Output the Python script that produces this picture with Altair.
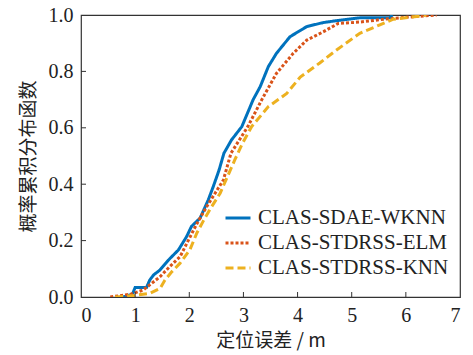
import altair as alt
import pandas as pd

methods = ["CLAS-SDAE-WKNN", "CLAS-STDRSS-ELM", "CLAS-STDRSS-KNN"]
colors = ["#0072BD", "#D95319", "#EDB120"]
dashes = [[1, 0], [3, 2], [8, 4]]

wknn_x = [0.78, 0.95, 1.00, 1.21, 1.27, 1.34, 1.46, 1.61, 1.80, 1.95, 2.04, 2.20, 2.35, 2.44, 2.55, 2.64, 2.78, 2.97, 3.18, 3.31, 3.46, 3.61, 3.86, 4.17, 4.47, 4.72, 5.15, 5.70, 5.75]
wknn_y = [0.0, 0.01, 0.034, 0.034, 0.06, 0.078, 0.096, 0.13, 0.167, 0.214, 0.25, 0.28, 0.344, 0.39, 0.45, 0.51, 0.557, 0.604, 0.70, 0.746, 0.817, 0.864, 0.923, 0.959, 0.973, 0.98, 0.99, 0.99, 1.0]

elm_x = [0.54, 0.92, 1.15, 1.27, 1.46, 1.64, 1.83, 1.98, 2.14, 2.32, 2.63, 2.77, 3.08, 3.34, 3.61, 3.92, 4.17, 4.48, 4.75, 5.15, 5.60, 6.20, 6.57]
elm_y = [0.0, 0.01, 0.025, 0.043, 0.072, 0.108, 0.143, 0.20, 0.26, 0.32, 0.415, 0.51, 0.604, 0.70, 0.793, 0.864, 0.911, 0.941, 0.97, 0.975, 0.985, 0.995, 1.0]

knn_x = [0.63, 0.97, 1.27, 1.46, 1.55, 1.68, 1.83, 2.01, 2.14, 2.26, 2.38, 2.57, 2.84, 2.97, 3.15, 3.46, 3.80, 4.05, 4.41, 4.72, 5.15, 5.52, 5.77, 6.20, 6.38]
knn_y = [0.0, 0.005, 0.013, 0.03, 0.06, 0.09, 0.12, 0.167, 0.227, 0.27, 0.31, 0.368, 0.486, 0.54, 0.604, 0.675, 0.722, 0.78, 0.83, 0.876, 0.935, 0.965, 0.985, 0.995, 1.0]

x_ticks = [0, 1, 2, 3, 4, 5, 6, 7]
y_ticks = [0.0, 0.2, 0.4, 0.6, 0.8, 1.0]

rows = []
for m, xs, ys in zip(methods, [wknn_x, elm_x, knn_x], [wknn_y, elm_y, knn_y]):
    for i, (a, b) in enumerate(zip(xs, ys)):
        rows.append({"method": m, "x": a, "y": b, "order": i})
df = pd.DataFrame(rows)

W, H = 379, 282
serif = "'Times New Roman', 'Liberation Serif', 'DejaVu Serif', serif"
cjk = "Noto Sans CJK SC"

xscale = alt.Scale(domain=[0, 7], nice=False)
yscale = alt.Scale(domain=[0, 1], nice=False)

xaxis = alt.Axis(values=x_ticks, format="d", title="定位误差 / m", ticks=False, grid=False,
                 domain=False, labelFont=serif, labelFontSize=20, labelColor="#222",
                 labelPadding=8, titleFont=cjk, titleFontSize=19, titleFontWeight="normal",
                 titleColor="#222", titlePadding=6)
yaxis = alt.Axis(values=y_ticks, format=".1f", title="概率累积分布函数", ticks=False,
                 grid=False, domain=False, labelFont=serif, labelFontSize=20,
                 labelColor="#222", labelPadding=8, titleFont=cjk, titleFontSize=19,
                 titleFontWeight="normal", titleColor="#222", titlePadding=10)

lines = alt.Chart(df).mark_line(strokeWidth=3, clip=True).encode(
    x=alt.X("x:Q", scale=xscale, axis=xaxis),
    y=alt.Y("y:Q", scale=yscale, axis=yaxis),
    color=alt.Color("method:N", scale=alt.Scale(domain=methods, range=colors),
                    legend=alt.Legend(title=None, orient="none", legendX=141, legendY=187,
                                      symbolType="stroke", symbolSize=625, symbolStrokeWidth=3,
                                      labelFont=serif, labelFontSize=21, labelColor="#222",
                                      labelLimit=0, rowPadding=1, labelOffset=6,
                                      fillColor="white", padding=2)),
    strokeDash=alt.StrokeDash("method:N", scale=alt.Scale(domain=methods, range=dashes),
                              legend=None),
    order="order:Q",
)

xt = pd.DataFrame({"v": x_ticks[1:-1]})
yt = pd.DataFrame({"v": y_ticks[1:-1]})
xtick = alt.Chart(xt).mark_rule(color="#333", strokeWidth=1).encode(
    x=alt.X("v:Q", scale=xscale, axis=xaxis), y=alt.value(H), y2=alt.value(H - 5))
ytick = alt.Chart(yt).mark_rule(color="#333", strokeWidth=1).encode(
    y=alt.Y("v:Q", scale=yscale, axis=yaxis), x=alt.value(0), x2=alt.value(5))

chart = alt.layer(lines, xtick, ytick).properties(
    width=W, height=H,
    background="white",
    autosize=alt.AutoSizeParams(type="none"),
    padding={"left": 81, "top": 15, "right": 13, "bottom": 58},
).configure_view(stroke="#333", strokeWidth=1.2).configure_axis(
    labelFont=serif, titleFont=cjk)

chart.save("out.html", embed_options={"renderer": "svg", "actions": False})
